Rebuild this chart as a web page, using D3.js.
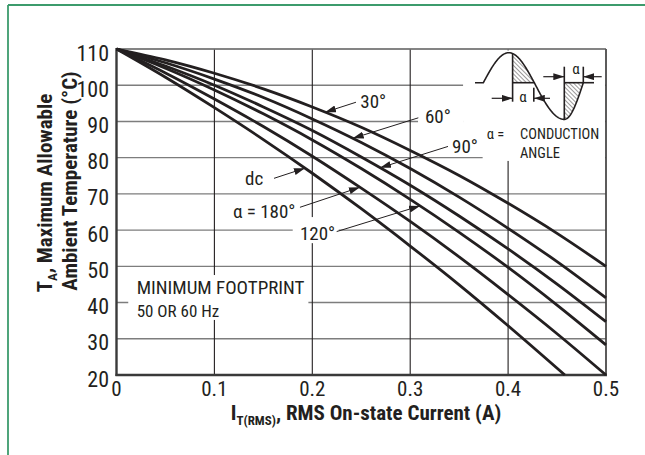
<!DOCTYPE html>
<html lang="en">
<head>
<meta charset="UTF-8">
<title>Derating: Ambient Temperature vs RMS Current</title>
<script src="https://d3js.org/d3.v7.min.js"></script>
<style>
    body { margin: 0; padding: 0; background: #fff; }
    text { font-family: 'Liberation Sans Narrow', 'Arial Narrow', 'Roboto Condensed', sans-serif; fill: #231f20; }
    .curve { fill: none; stroke: #231f20; stroke-width: 2.8px; }
    .hgrid { stroke: #7d7d7d; stroke-width: 1.4px; }
    .vgrid { stroke: #231f20; stroke-width: 1.1px; }
    .leader { stroke: #231f20; stroke-width: 1px; fill: none; }
</style>
</head>
<body>
<script>
// current axis samples (A) and temperature readings (°C) for each conduction angle
const currents = [0, 0.05, 0.1, 0.15, 0.2, 0.25, 0.3, 0.35, 0.4, 0.45, 0.5];
const temp30  = [110, 107.0, 103.3, 99.0, 94.0, 88.4, 82.0, 75.1, 67.4, 59.1, 50.0];
const temp60  = [110, 106.2, 101.7, 96.6, 90.7, 84.2, 77.0, 69.1, 60.5, 51.3, 41.3];
const temp90  = [110, 105.3, 100.0, 94.0, 87.5, 80.2, 72.4, 63.9, 54.8, 45.1, 34.7];
const temp120 = [110, 104.7, 98.7, 92.1, 84.9, 77.0, 68.5, 59.4, 49.7, 39.3, 28.3];
const temp180 = [110, 103.4, 96.2, 88.6, 80.4, 71.6, 62.4, 52.6, 42.2, 31.4, 20.0];
const dcCurrents = [0, 0.05, 0.1, 0.15, 0.2, 0.25, 0.3, 0.35, 0.4, 0.458];
const tempDc     = [110, 102.2, 93.8, 85.0, 75.7, 65.9, 55.6, 44.9, 33.6, 20.0];

const xTicks = [0, 0.1, 0.2, 0.3, 0.4, 0.5];
const xTickLabels = ['0', '0.1', '0.2', '0.3', '0.4', '0.5'];
const yTicks = [20, 30, 40, 50, 60, 70, 80, 90, 100, 110];

const curves = {
    '30': { xs: currents, ys: temp30 },
    '60': { xs: currents, ys: temp60 },
    '90': { xs: currents, ys: temp90 },
    '120': { xs: currents, ys: temp120 },
    '180': { xs: currents, ys: temp180 },
    'dc': { xs: dcCurrents, ys: tempDc }
};

const width = 645, height = 455;
const svg = d3.select('body').append('svg')
    .attr('width', width)
    .attr('height', height);

const x = d3.scaleLinear().domain([0, 0.5]).range([116.5, 606]);
const y = d3.scaleLinear().domain([20, 110]).range([375, 49]);

const defs = svg.append('defs');
defs.append('marker')
    .attr('id', 'arrow')
    .attr('viewBox', '0 0 11 7')
    .attr('refX', 11).attr('refY', 3.5)
    .attr('markerWidth', 11).attr('markerHeight', 7)
    .attr('markerUnits', 'userSpaceOnUse')
    .attr('orient', 'auto')
    .append('path').attr('d', 'M0,0L11,3.5L0,7Z').attr('fill', '#231f20');
defs.append('pattern')
    .attr('id', 'hatch')
    .attr('width', 3).attr('height', 3)
    .attr('patternUnits', 'userSpaceOnUse')
    .attr('patternTransform', 'rotate(-45)')
    .append('line')
    .attr('x1', 0).attr('y1', 0).attr('x2', 0).attr('y2', 3)
    .attr('stroke', '#231f20').attr('stroke-width', 0.9);

// green page frame (top + left)
svg.append('line').attr('x1', 8).attr('y1', 5).attr('x2', width).attr('y2', 5)
    .attr('stroke', '#3c9b6c').attr('stroke-width', 1.8);
svg.append('line').attr('x1', 8).attr('y1', 5).attr('x2', 8).attr('y2', height)
    .attr('stroke', '#3c9b6c').attr('stroke-width', 1.8);

// grid
const grid = svg.append('g');
grid.selectAll('.hgrid').data(yTicks.slice(1)).enter().append('line')
    .attr('class', 'hgrid')
    .attr('x1', x(0)).attr('x2', x(0.5))
    .attr('y1', d => y(d)).attr('y2', d => y(d));
grid.selectAll('.vgrid').data(xTicks.slice(1)).enter().append('line')
    .attr('class', 'vgrid')
    .attr('x1', d => x(d)).attr('x2', d => x(d))
    .attr('y1', y(110)).attr('y2', y(20));

// white boxes behind labels and the inset sketch
const masks = [
    [0.012, 0.196, 47.6, 35.2],   // MINIMUM FOOTPRINT
    [0.180, 0.227, 63.6, 56.4],   // 120°
    [0.308, 0.354, 93.7, 88.2],   // 60°
    [0.354, 0.499, 109.6, 82.1],  // inset
    [0.374, 0.499, 82.3, 79.1]
];
svg.append('g').selectAll('rect').data(masks).enter().append('rect')
    .attr('x', d => x(d[0])).attr('width', d => x(d[1]) - x(d[0]))
    .attr('y', d => y(d[2])).attr('height', d => y(d[3]) - y(d[2]))
    .attr('fill', '#fff');

// plot frame
svg.append('line').attr('x1', x(0)).attr('x2', x(0.5)).attr('y1', y(110)).attr('y2', y(110))
    .attr('stroke', '#7d7d7d').attr('stroke-width', 1.4);
svg.append('line').attr('x1', x(0.5)).attr('x2', x(0.5)).attr('y1', y(110)).attr('y2', y(20))
    .attr('stroke', '#4a4a4a').attr('stroke-width', 1.4);
svg.append('line').attr('x1', x(0)).attr('x2', x(0)).attr('y1', y(110) - 1).attr('y2', y(20) + 1)
    .attr('stroke', '#3a3a3a').attr('stroke-width', 2.4);
svg.append('line').attr('x1', x(0) - 1).attr('x2', x(0.5) + 1).attr('y1', y(20)).attr('y2', y(20))
    .attr('stroke', '#3a3a3a').attr('stroke-width', 2.4);

// tick labels
svg.append('g').selectAll('text').data(yTicks).enter().append('text')
    .attr('x', 109).attr('y', d => y(d) + 11.5)
    .attr('text-anchor', 'end')
    .style('font-size', '22px')
    .text(d => d);
svg.append('g').selectAll('text').data(xTicks).enter().append('text')
    .attr('x', d => x(d)).attr('y', 396)
    .attr('text-anchor', 'middle')
    .style('font-size', '21px')
    .text((d, i) => xTickLabels[i]);

// curves
const line = d3.line()
    .x(d => x(d[0]))
    .y(d => y(d[1]))
    .curve(d3.curveMonotoneX);
svg.append('g').selectAll('path')
    .data(Object.values(curves))
    .enter().append('path')
    .attr('class', 'curve')
    .attr('d', c => line(c.xs.map((v, i) => [v, c.ys[i]])));

function valueAt(c, v) {
    const i = Math.max(0, Math.min(c.xs.length - 2, d3.bisectRight(c.xs, v) - 1));
    const t = (v - c.xs[i]) / (c.xs[i + 1] - c.xs[i]);
    return c.ys[i] + t * (c.ys[i + 1] - c.ys[i]);
}

// curve labels with leader arrows
const annotations = [
    { text: '30°', curve: '30', tx: 0.249, ty: 93.6, lx: 0.2446, ly: 95.3, tip: 0.213 },
    { text: '60°', curve: '60', tx: 0.3151, ty: 89.65, lx: 0.3083, ly: 91.0, tip: 0.2413 },
    { text: '90°', curve: '90', tx: 0.3427, ty: 81.2, lx: 0.3386, ly: 83.1, tip: 0.2692 },
    { text: 'dc', curve: 'dc', tx: 0.1313, ty: 72.45, lx: 0.1609, ly: 74.3, tip: 0.1925 },
    { text: 'α = 180°', curve: '180', tx: 0.119, ty: 63.35, lx: 0.1874, ly: 66.3, tip: 0.2487 },
    { text: '120°', curve: '120', tx: 0.1874, ty: 57.3, lx: 0.2249, ly: 59.6, tip: 0.31 }
];
const ann = svg.append('g');
ann.selectAll('line').data(annotations).enter().append('line')
    .attr('class', 'leader')
    .attr('x1', d => x(d.lx)).attr('y1', d => y(d.ly))
    .attr('x2', d => x(d.tip)).attr('y2', d => y(valueAt(curves[d.curve], d.tip)))
    .attr('marker-end', 'url(#arrow)');
ann.selectAll('text').data(annotations).enter().append('text')
    .attr('x', d => x(d.tx)).attr('y', d => y(d.ty))
    .style('font-size', '19px')
    .text(d => d.text);

// footnote
const note = svg.append('text').attr('x', 136.7).style('font-size', '19px');
note.append('tspan').attr('x', 136.7).attr('y', 294).text('MINIMUM FOOTPRINT');
note.append('tspan').attr('x', 136.7).attr('y', 316.7).style('font-size', '17px').text('50 OR 60 Hz');

// inset: conduction angle sketch
const inset = svg.append('g').attr('transform', 'translate(483.3,82.7)');
const posWave = d3.range(0, 51.01, 0.5).map(t => [t, -30 * Math.sin(Math.PI * t / 51)]);
const negWave = d3.range(51, 100.01, 0.5).map(t => {
    if (t <= 81) return [t, 36.7 * Math.sin(Math.PI / 2 * (t - 51) / 30)];
    return [t, 36.7 * Math.cos(Math.PI / 2 * (t - 81) / 19)];
});
const wline = d3.line();
const posHatch = [[29.3, 0]].concat(posWave.filter(p => p[0] >= 29.3), [[51, 0]]);
const negHatch = [[81, 0]].concat(negWave.filter(p => p[0] >= 81), [[100, 0]]);
inset.append('path').attr('d', wline(posHatch) + 'Z').attr('fill', 'url(#hatch)');
inset.append('path').attr('d', wline(negHatch) + 'Z').attr('fill', 'url(#hatch)');
inset.append('path')
    .attr('d', wline([[-8.3, 0], [0, 0]].concat(posWave, negWave)))
    .attr('fill', 'none').attr('stroke', '#231f20').attr('stroke-width', 1.6);
const segs = [
    [[29.3, -29.2], [29.3, 19]], [[29.3, 0], [51, 0]], [[50.5, 5], [50.5, 19]],
    [[81, -16], [81, 36.7]], [[81, 0], [110.7, 0]], [[100, -16], [100, 0]]
];
inset.selectAll('.seg').data(segs).enter().append('path')
    .attr('d', d => wline(d))
    .attr('stroke', '#231f20').attr('stroke-width', 1.6).attr('fill', 'none');
const insetArrows = [
    [[8.4, 15.6], [29.3, 15.6]], [[66.7, 15.6], [50.5, 15.6]],
    [[60, -6], [81, -6]], [[118.4, -6], [100, -6]]
];
inset.selectAll('.arr').data(insetArrows).enter().append('path')
    .attr('d', d => wline(d))
    .attr('stroke', '#231f20').attr('stroke-width', 1.2)
    .attr('marker-end', 'url(#arrow)');
inset.append('text').attr('x', 39.7).attr('y', 19).attr('text-anchor', 'middle')
    .style('font-size', '15px').text('α');
inset.append('text').attr('x', 92.7).attr('y', -8.7).attr('text-anchor', 'middle')
    .style('font-size', '15px').text('α');

svg.append('text').attr('x', 486.7).attr('y', 138.5).style('font-size', '14.5px').text('α =');
svg.append('text').attr('x', 520).attr('y', 139.3).style('font-size', '14.5px').text('CONDUCTION');
svg.append('text').attr('x', 520).attr('y', 158.3).style('font-size', '14.5px').text('ANGLE');

// axis titles
const yt1 = svg.append('text')
    .attr('transform', 'translate(52,193) rotate(-90)')
    .attr('text-anchor', 'middle')
    .style('font-size', '21px').style('font-weight', 'bold');
yt1.append('tspan').text('T');
yt1.append('tspan').attr('dy', 5).style('font-size', '13px').text('A');
yt1.append('tspan').attr('dy', -5).text(', Maximum Allowable');
svg.append('text')
    .attr('transform', 'translate(77,181) rotate(-90)')
    .attr('text-anchor', 'middle')
    .style('font-size', '21px').style('font-weight', 'bold')
    .text('Ambient Temperature (°C)');

const xt = svg.append('text')
    .attr('x', 366).attr('y', 420)
    .attr('text-anchor', 'middle')
    .style('font-size', '21px').style('font-weight', 'bold');
xt.append('tspan').text('I');
xt.append('tspan').attr('dy', 5).style('font-size', '13px').text('T(RMS)');
xt.append('tspan').attr('dy', -5).text(', RMS On-state Current (A)');
</script>
</body>
</html>
